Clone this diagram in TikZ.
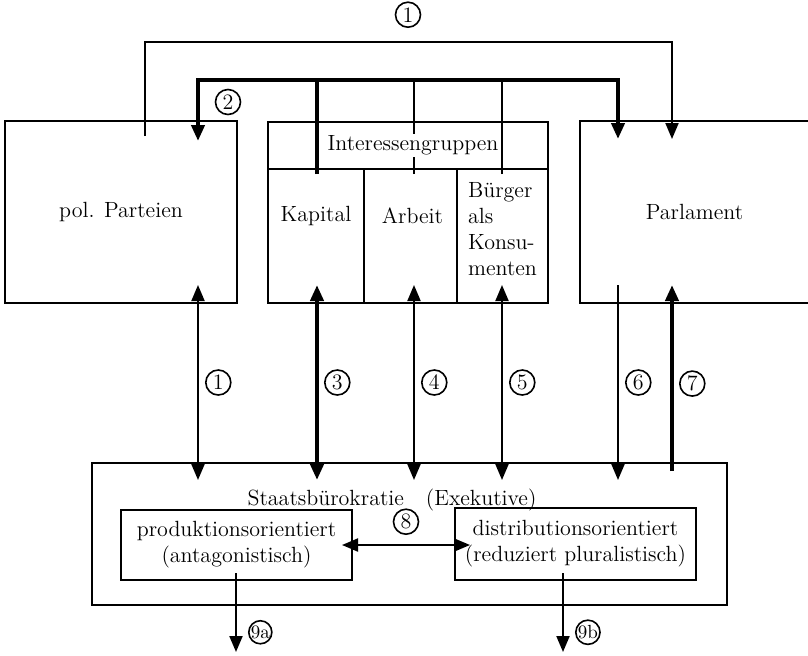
\documentclass[tikz,border=0pt]{standalone}
\usepackage{fontspec}
\usepackage{tikz}
\usetikzlibrary{arrows.meta, positioning}
\tikzset{box/.style={draw, line width=1pt, inner sep=0pt, align=center},
num/.style={circle, draw, line width=0.8pt, minimum size=12.5pt, inner sep=0pt},
numsmall/.style={num, minimum size=11.5pt, font=\fontsize{9.5}{9.5}\selectfont},
flow/.style={line width=1pt},
strong/.style={line width=2.2pt}}

\begin{document}
\begin{tikzpicture}[x=0.5pt, y=-0.5pt, >={Triangle[length=8pt,width=6.5pt]}, font=\fontsize{11}{13}\selectfont]
\useasboundingbox (0,0) rectangle (808,655);
\node[box, minimum width=116pt, minimum height=91pt] (parteien) at (121,212) {pol. Parteien};
\node[box, minimum width=140pt, minimum height=23.5pt] (gruppen) at (408,145.5) {};
\node[box, minimum width=48pt, minimum height=67pt] (kapital) at (316,236) {};
\node[box, minimum width=46.5pt, minimum height=67pt] (arbeit) at (410.5,236) {};
\node[box, minimum width=45.5pt, minimum height=67pt] (buerger) at (502.5,236) {};
\node[box, minimum width=114.5pt, minimum height=91pt] (parlament) at (694.5,212) {Parlament};
\node[box, minimum width=317.5pt, minimum height=71pt] (staat) at (409.5,534) {};
\node[box, minimum width=115.5pt, minimum height=35pt] (prod) at (236.5,545) {produktionsorientiert\\(antagonistisch)};
\node[box, minimum width=120.5pt, minimum height=36pt] (dist) at (575.5,544) {distributionsorientiert\\(reduziert pluralistisch)};
\coordinate (top1) at (408,42);
\coordinate (top2) at (408,80);
\coordinate (b1) at (145,0);
\coordinate (c1) at (198,0);
\coordinate (c3) at (317,0);
\coordinate (c4) at (414,0);
\coordinate (c5) at (502,0);
\coordinate (c6) at (618,0);
\coordinate (c7) at (672,0);
\coordinate (out9a) at (236,652);
\coordinate (out9b) at (563,652);
\draw[flow, ->] ([yshift=-8pt]parteien.north -| b1) |- (top1) -| ([yshift=-9.5pt]parlament.north -| c7);
\draw[strong, <->] ([yshift=-10.5pt]parteien.north -| c1) |- (top2) -| ([yshift=-9.5pt]parlament.north -| c6);
\draw[strong] ([yshift=-3pt]kapital.north -| c3) -- (c3 |- top2);
\draw[flow] ([yshift=-3pt]arbeit.north -| c4) -- (c4 |- top2);
\draw[flow] ([yshift=-3pt]buerger.north -| c5) -- (c5 |- top2);
\draw[flow, <->] ([yshift=9.5pt]parteien.south -| c1) -- node[num, right=3.5pt] (l1) {1} ([yshift=-9pt]staat.north -| c1);
\draw[strong, <->] ([yshift=9.5pt]kapital.south -| c3) -- node[num, right=3.5pt] (l3) {3} ([yshift=-9pt]staat.north -| c3);
\draw[flow, <->] ([yshift=9.5pt]arbeit.south -| c4) -- node[num, right=3.5pt] (l4) {4} ([yshift=-9pt]staat.north -| c4);
\draw[flow, <->] ([yshift=9.5pt]buerger.south -| c5) -- node[num, right=3.5pt] (l5) {5} ([yshift=-9pt]staat.north -| c5);
\draw[flow, ->] ([yshift=9.5pt]parlament.south -| c6) -- node[num, right=3.5pt] (l6) {6} ([yshift=-9pt]staat.north -| c6);
\draw[strong, ->] ([yshift=-4.5pt]staat.north -| c7) -- node[num, right=3.5pt, pos=0.47] (l7) {7} ([yshift=9.5pt]parlament.south -| c7);
\draw[flow, <->] ([xshift=-5.5pt]prod.east) -- node[num, above=5pt] (l8) {8} ([xshift=8pt]dist.west |- prod.east);
\draw[flow, ->] ([yshift=4pt]prod.south -| out9a) -- node[numsmall, right=6pt, pos=0.75] (l9a) {9a} (out9a);
\draw[flow, ->] ([yshift=4pt]dist.south -| out9b) -- node[numsmall, right=6pt, pos=0.75] (l9b) {9b} (out9b);
\node[num, above=7pt] (l1top) at (top1) {1};
\node[num] (l2) at (228,102) {2};
\node[fill=white, inner xsep=0pt, inner ysep=1pt] (gruppentext) at ([xshift=2.5pt]gruppen.center) {Interessengruppen};
\node (kapitaltext) at ([yshift=-24pt]kapital.north) {Kapital};
\node (arbeittext) at ([xshift=1pt, yshift=-24pt]arbeit.north) {Arbeit};
\node[align=left] (buergertext) at ([yshift=3.5pt]buerger.center) {Bürger\\als\\Konsu-\\menten};
\node (staattext) at ([xshift=-8.75pt, yshift=-19pt]staat.north) {Staatsbürokratie\quad(Exekutive)};
\end{tikzpicture}
\end{document}
